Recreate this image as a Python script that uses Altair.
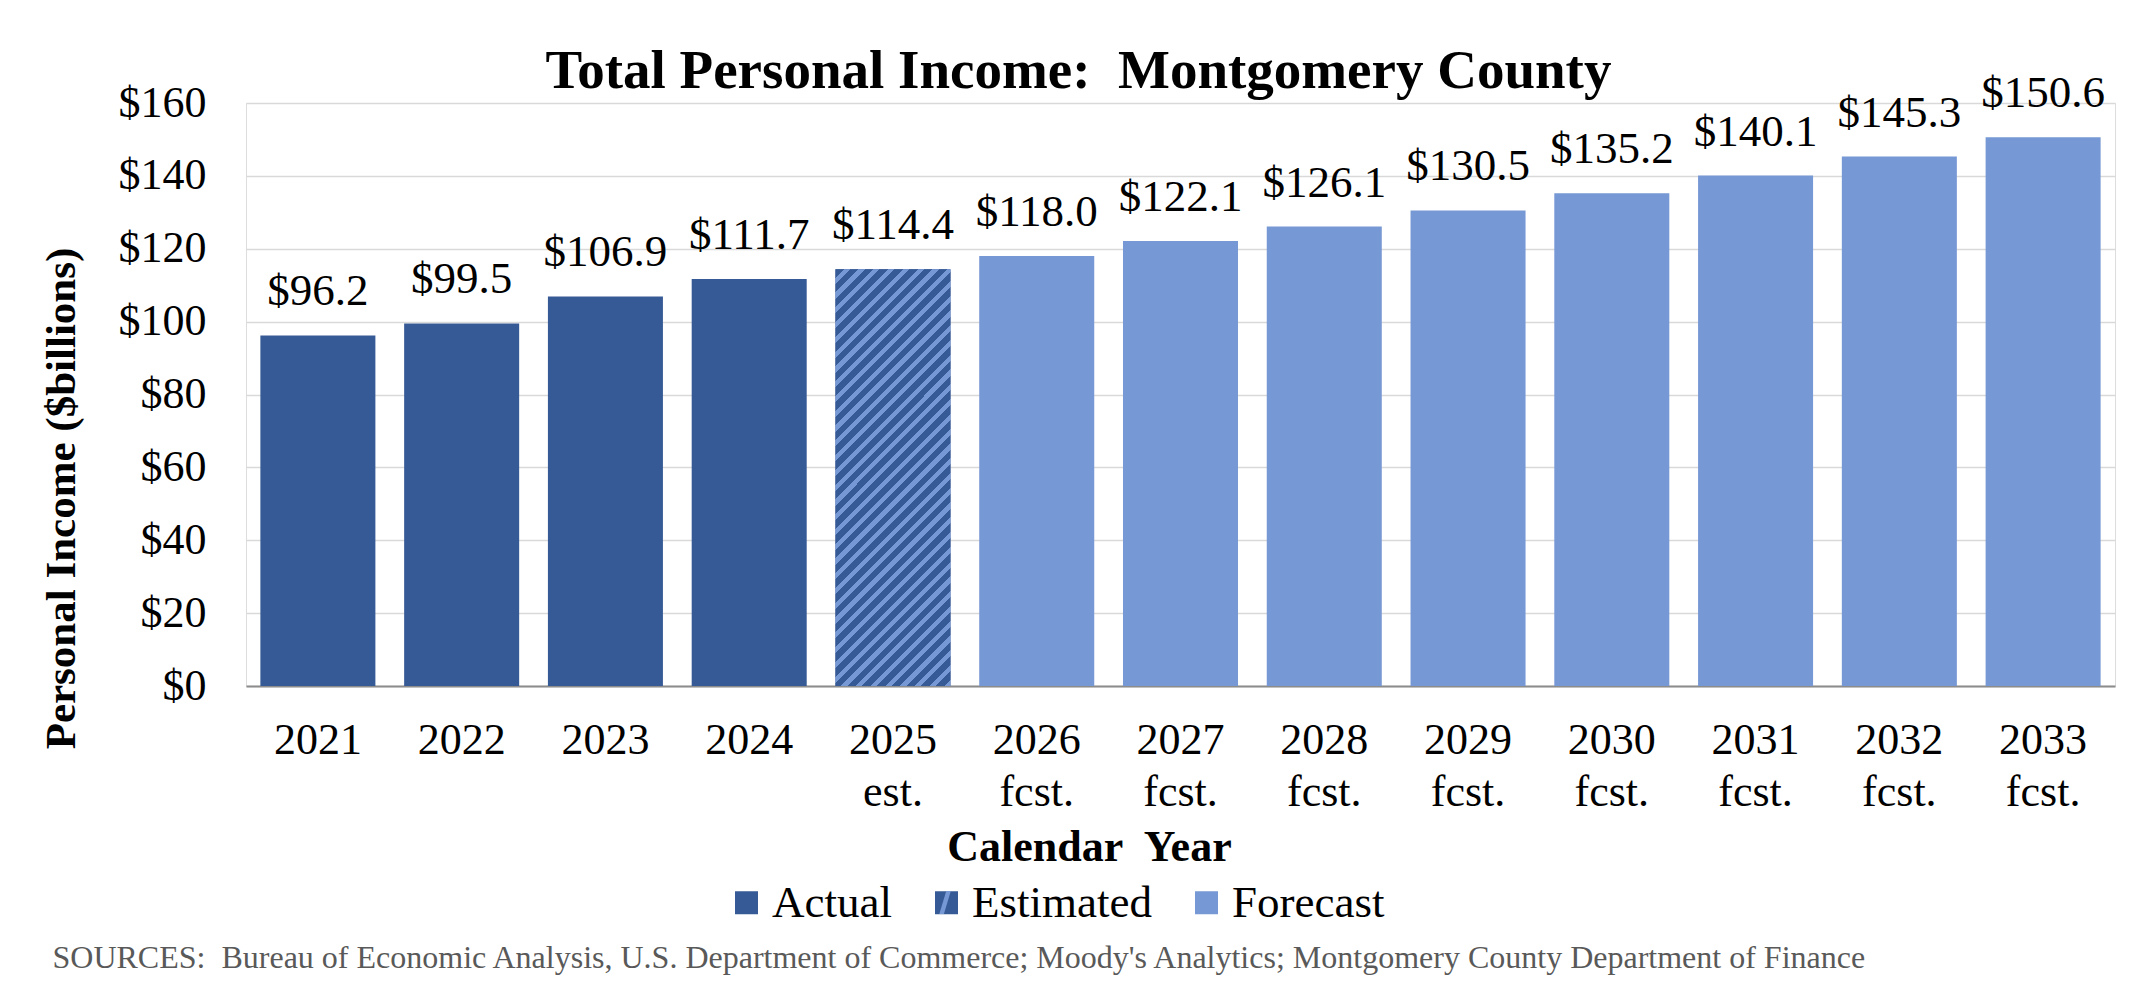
import altair as alt
import pandas as pd

years = ["2021", "2022", "2023", "2024", "2025", "2026", "2027",
         "2028", "2029", "2030", "2031", "2032", "2033"]
suffixes = ["", "", "", "", "est.", "fcst.", "fcst.", "fcst.",
            "fcst.", "fcst.", "fcst.", "fcst.", "fcst."]
values = [96.2, 99.5, 106.9, 111.7, 114.4, 118.0, 122.1,
          126.1, 130.5, 135.2, 140.1, 145.3, 150.6]
kinds = ["Actual", "Actual", "Actual", "Actual", "Estimated",
         "Forecast", "Forecast", "Forecast", "Forecast", "Forecast",
         "Forecast", "Forecast", "Forecast"]
kind_order = ["Actual", "Estimated", "Forecast"]
y_ticks = [0, 20, 40, 60, 80, 100, 120, 140, 160]

DARK = "#365a96"
LIGHT = "#7698d4"
FONT = "Liberation Serif"

cats = [(y + " " + s).strip() for y, s in zip(years, suffixes)]
df = pd.DataFrame({"cat": cats, "value": values, "kind": kinds})

# hatch (wide upward diagonal) as a hard-stop linear gradient
k = 0.276
s = (1 + k) / (1 + k * k)
N = 36
light_frac = 0.42
stops = []
for j in range(N):
    a = j / N
    b = (j + 1 - light_frac) / N
    c = (j + 1) / N
    stops += [alt.GradientStop(offset=a, color=DARK),
              alt.GradientStop(offset=b, color=DARK),
              alt.GradientStop(offset=b, color=LIGHT),
              alt.GradientStop(offset=c, color=LIGHT)]
hatch = alt.LinearGradient(gradient="linear", stops=stops,
                           x1=0, y1=0, x2=k * s, y2=s)

STRIPE_PATH = "M-0.45,1L-0.05,1L0.55,-1L0.15,-1Z"

x_enc = alt.X(
    "cat:N", sort=cats,
    scale=alt.Scale(paddingInner=0.2, paddingOuter=0.1),
    axis=alt.Axis(
        title="Calendar\u00a0 Year", titleFont=FONT, titleFontSize=44,
        titleFontWeight="bold", titleColor="black",
        titleX=843, titleY=174, titleBaseline="alphabetic", titleAlign="center",
        labelExpr="split(datum.label, ' ')", labelFont=FONT, labelFontSize=44,
        labelColor="black", labelLineHeight=52, labelPadding=32, labelAngle=0,
        ticks=False, tickSize=0, domain=True, domainColor="#8c8c8c",
        domainWidth=2, grid=False, labelOverlap=False,
    ),
)
y_scale = alt.Scale(domain=[0, 160], nice=False)

base = alt.Chart(df).encode(x=x_enc)

bars = base.mark_bar().encode(
    y=alt.Y("value:Q", scale=y_scale, axis=alt.Axis(
        values=y_ticks, format="$d", labelFont=FONT, labelFontSize=44,
        labelColor="black", labelPadding=40, ticks=False, tickSize=0,
        domain=False, grid=True, gridColor="#d9d9d9", gridWidth=1.5,
        title="Personal Income ($billions)", titleFont=FONT, titleFontSize=43,
        titleFontWeight="bold", titleColor="black", titleAngle=-90,
        titleX=-172, titleY=395, titleBaseline="alphabetic", titleAlign="center",
    )),
    color=alt.Color("kind:N", scale=alt.Scale(domain=kind_order,
                                              range=[DARK, DARK, LIGHT]),
                    legend=alt.Legend(
                        title=None, orient="none", legendX=478, legendY=777,
                        direction="horizontal", symbolType="square",
                        symbolSize=529, symbolStrokeWidth=0,
                        labelFont=FONT, labelFontSize=45, labelColor="black",
                        labelOffset=3, columnPadding=32, labelLimit=400,
                    )),
)

# hidden helper (covered by the hatched bar) that supplies the legend stripe
stripe_key = base.transform_filter(alt.datum.kind == "Estimated").transform_calculate(
    mid="datum.value / 2").mark_point(filled=True, color=LIGHT, size=10, opacity=1).encode(
    y=alt.Y("mid:Q", scale=y_scale, axis=None),
    shape=alt.Shape("kind:N", scale=alt.Scale(domain=["Estimated"], range=[STRIPE_PATH]),
                    legend=alt.Legend(
                        title=None, orient="none", legendX=676, legendY=777,
                        direction="horizontal", symbolSize=529, symbolStrokeWidth=0,
                        symbolFillColor=LIGHT, labelExpr="''",
                        labelFont=FONT, labelFontSize=45,
                        labelOffset=3, labelLimit=400,
                    )),
)

hatched = base.transform_filter(alt.datum.kind == "Estimated").mark_bar(
    color=hatch).encode(
    y=alt.Y("value:Q", scale=y_scale, axis=None),
)

labels = base.mark_text(dy=-30, baseline="alphabetic", font=FONT,
                        fontSize=45, color="black").encode(
    y=alt.Y("value:Q", scale=y_scale, axis=alt.Axis(
        orient="right", labels=False, ticks=False, domain=False, grid=False,
        title="SOURCES:\u00a0 Bureau of Economic Analysis, U.S. Department of Commerce; "
              "Moody's Analytics; Montgomery County Department of Finance",
        titleFont=FONT, titleFontSize=32, titleFontWeight="normal",
        titleColor="#595959", titleAngle=0, titleAlign="left",
        titleBaseline="alphabetic", titleX=-2063, titleY=864,
    )),
    text=alt.Text("value:Q", format="$.1f"),
)

chart = alt.layer(bars, stripe_key, hatched, labels).resolve_axis(y="independent").properties(
    width=1869, height=583,
    autosize=alt.AutoSizeParams(type="none"),
    padding={"left": 238, "top": 95, "right": 22, "bottom": 290},
    title=alt.TitleParams(
        "Total Personal Income:\u00a0 Montgomery County", font=FONT,
        fontSize=55, fontWeight="bold", color="black", anchor="middle",
        frame="group", dx=-102, dy=33,
    ),
).configure_view(stroke=None).configure(background="white")

chart.save("out.html", embed_options={"renderer": "svg", "actions": False})
